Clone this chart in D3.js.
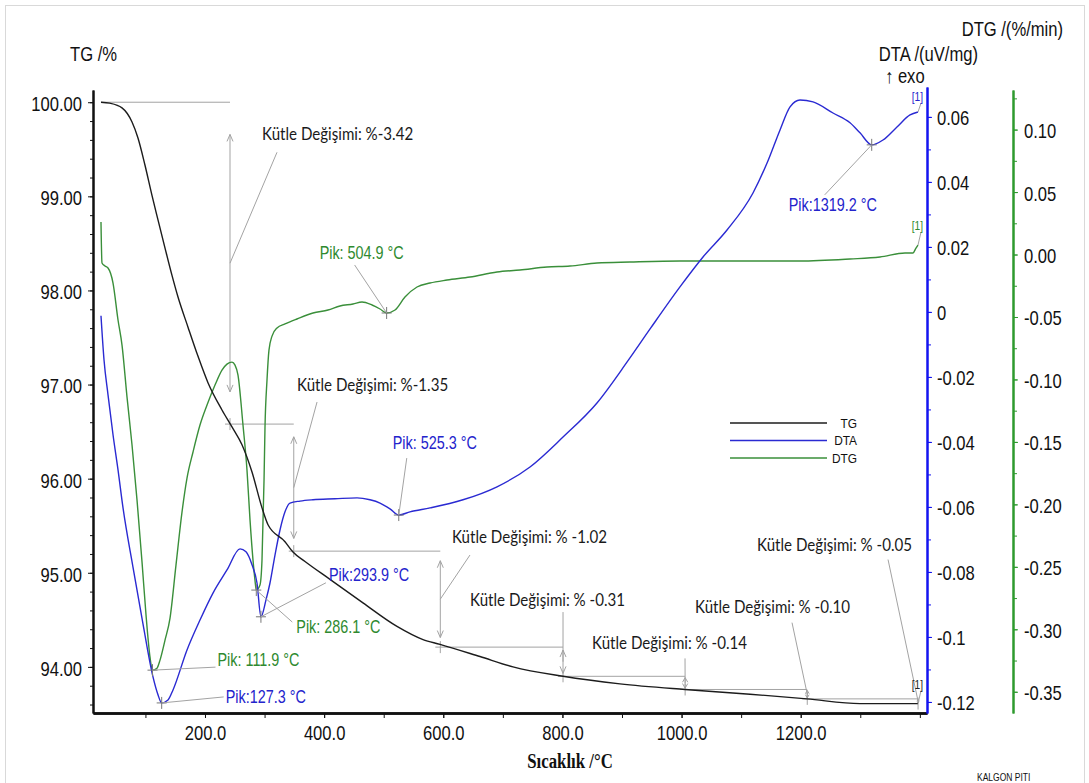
<!DOCTYPE html>
<html><head><meta charset="utf-8">
<script src="https://cdn.jsdelivr.net/npm/d3@7"></script>
<style>
body{margin:0;background:#fff;}
svg{display:block;font-family:"Liberation Sans",Arial,sans-serif;}
</style></head><body>
<svg id="chart" width="1089" height="783"></svg>
<script>
// ---------------- DATA ----------------
const tgTemp=[25.4,40,60.7,77.5,87.5,99.3,111.0,121.1,132.9,144.6,154.7,171.5,188.3,205.0,228.5,245.3,262.1,278.9,295.7,305.8,334.3,347.7,367.9,409.8,465.2,522.3,566.0,594.5,661.6,717.0,801.0,896.6,1005.8,1114.9,1210.6,1299.5,1396.9];
const tgValue=[100.00,99.99,99.94,99.79,99.62,99.33,99.01,98.75,98.45,98.16,97.93,97.61,97.30,97.02,96.73,96.55,96.36,96.07,95.69,95.51,95.33,95.22,95.12,94.93,94.68,94.43,94.29,94.24,94.11,94.00,93.90,93.82,93.76,93.71,93.66,93.61,93.61];

const dtaTemp=[25.4,30.5,37.2,45.6,54.0,62.4,79.1,95.9,112.7,121.1,127.3,137.9,146.3,169.8,191.6,213.4,236.9,258.8,268.8,278.9,287.3,293.9,302.4,309.1,317.5,325.9,334.3,342.7,359.5,381.3,418.2,455.2,477.0,493.8,510.6,525.3,544.1,577.7,633.1,690.2,745.6,801.0,858.0,910.1,948.0,997.3,1036.0,1076.3,1119.9,1143.5,1165.3,1182.1,1198.8,1220.7,1254.2,1282.8,1299.5,1319.2,1338.1,1361.6,1383.5,1396.9];
const dtaValue=[-0.0012,-0.0148,-0.0255,-0.0378,-0.0486,-0.0603,-0.0785,-0.0960,-0.1123,-0.1178,-0.1203,-0.1194,-0.1163,-0.1040,-0.0948,-0.0865,-0.0794,-0.0729,-0.0738,-0.0778,-0.0834,-0.0938,-0.0886,-0.0834,-0.0748,-0.0671,-0.0615,-0.0588,-0.0582,-0.0578,-0.0575,-0.0572,-0.0578,-0.0588,-0.0606,-0.0625,-0.0615,-0.0603,-0.0578,-0.0538,-0.0477,-0.0385,-0.0280,-0.0150,-0.0050,0.0077,0.0169,0.0252,0.0366,0.0458,0.0560,0.0631,0.0652,0.0646,0.0612,0.0582,0.0551,0.0514,0.0529,0.0569,0.0606,0.0615];

const dtgTemp=[25.4,27.1,32.1,37.2,45.6,54.0,60.7,69.1,77.5,85.9,94.3,101.0,107.7,111.9,119.4,124.5,132.9,141.3,151.3,161.4,169.8,179.9,191.6,203.4,216.8,228.5,236.9,245.3,250.4,255.4,263.8,270.5,275.6,280.6,283.9,286.1,292.3,295.7,299.1,300.7,304.1,307.4,312.5,320.9,334.3,354.4,381.3,406.5,426.6,448.5,463.6,480.4,493.8,504.9,519.0,535.7,555.9,577.7,606.3,644.9,690.2,728.8,774.1,812.7,858.0,913.4,997.3,1064.5,1131.7,1198.8,1282.8,1333.1,1375.1,1388.5,1393.5,1396.9];
const dtgValue=[0.0260,-0.0068,-0.0092,-0.0108,-0.0228,-0.0524,-0.0725,-0.1141,-0.1525,-0.1966,-0.2462,-0.2886,-0.3223,-0.3327,-0.3311,-0.3247,-0.3087,-0.2910,-0.2486,-0.2062,-0.1790,-0.1581,-0.1365,-0.1205,-0.1045,-0.0925,-0.0877,-0.0861,-0.0885,-0.0965,-0.1366,-0.1726,-0.2126,-0.2446,-0.2606,-0.2686,-0.2646,-0.2446,-0.1806,-0.1389,-0.1005,-0.0765,-0.0653,-0.0588,-0.0556,-0.0516,-0.0468,-0.0444,-0.0412,-0.0396,-0.0380,-0.0404,-0.0436,-0.0468,-0.0444,-0.0340,-0.0260,-0.0228,-0.0204,-0.0180,-0.0140,-0.0124,-0.0100,-0.0092,-0.0068,-0.0060,-0.0052,-0.0052,-0.0052,-0.0052,-0.0036,-0.0020,0.0012,0.0012,0.0052,0.0076];

const xTickLabels=[200,400,600,800,1000,1200];
const xMinorTicks=[100,200,300,400,500,600,700,800,900,1000,1100,1200,1300,1400];
const tgTickLabels=[94,95,96,97,98,99,100];
const dtaTickLabels=[-0.12,-0.1,-0.08,-0.06,-0.04,-0.02,0,0.02,0.04,0.06];
const dtgTickLabels=[-0.35,-0.30,-0.25,-0.20,-0.15,-0.10,-0.05,0.00,0.05,0.10];

const massLevels=[100.00,96.58,95.23,94.21,93.90,93.76,93.66,93.61];
const massBounds=[25.4,242,349,595,801,1006,1211,1397];
const massChangeText=["Kütle Değişimi: %-3.42","Kütle Değişimi: %-1.35","Kütle Değişimi: % -1.02","Kütle Değişimi: % -0.31","Kütle Değişimi: % -0.14","Kütle Değişimi: % -0.10","Kütle Değişimi: % -0.05"];

const peakSeries=["DTG","DTA","DTG","DTA","DTG","DTA","DTA"];
const peakTemps=[111.9,127.3,286.1,293.9,504.9,525.3,1319.2];
const peakValues=[-0.3327,-0.1203,-0.2686,-0.0938,-0.0468,-0.0625,0.0514];
const peakText=["Pik: 111.9 °C","Pik:127.3 °C","Pik: 286.1 °C","Pik:293.9 °C","Pik: 504.9 °C","Pik: 525.3 °C","Pik:1319.2 °C"];

const legendNames=["TG","DTA","DTG"];

// ---------------- LAYOUT / STYLE ----------------
const COL={tg:"#1c1c1c",dta:"#2a2ad2",dtg:"#3a8f3a",dtaAxis:"#1414f0",dtgAxis:"#2e9a2e",dtaText:"#2424cc",dtgText:"#2f8a2f",ann:"#a3a3a3"};
const SX=0.83;
// annotation label anchors (data space) and leader offsets (px)
const massLabelAt=[[295.7,99.67],[354.5,96.995],[614.6,95.38],[644.9,94.71],[849.7,94.26],[1022.6,94.64],[1126.7,95.30]];
const massLeaderOff=[[15,19],[20,17],[18,18],[93,12],[93,16],[97,16],[131,15]];
const peakLabelOff=[[65,-10],[64,-6],[40,37],[68,-42],[-67,-60],[-6,-72],[-83,60]];
const peakLeaderOff=[[63,-3],[62,-6],[36,32],[65,-34],[-32,-48],[8,-57],[-47,50]];
const endLabelDy=[-15,-11,-15];

const svg=d3.select("#chart");
svg.append("rect").attr("x",5.5).attr("y",5.5).attr("width",1079).attr("height",800)
  .attr("fill","#fff").attr("stroke","#d9d9d9");

const x=d3.scaleLinear().domain([12,1412]).range([93,927]);
const yTG=d3.scaleLinear().domain([93.51,100.13]).range([713,90]);
const yDTA=d3.scaleLinear().domain([-0.1234,0.0692]).range([713,87]);
const yDTG=d3.scaleLinear().domain([-0.367,0.1317]).range([713,90]);

function squeeze(sel,sx){
  sel.each(function(){
    const t=d3.select(this);
    const x0=+t.attr("x")||0, y0=+t.attr("y")||0;
    t.attr("x",null).attr("y",null).attr("transform",`translate(${x0},${y0}) scale(${sx},1)`);
  });
}
function label(g,px,py,str,o){
  o=o||{};
  const t=g.append("text").attr("transform",`translate(${px},${py}) scale(${o.sx||SX},1)`)
    .attr("font-size",o.size||20).attr("fill",o.fill||"#111")
    .attr("text-anchor",o.anchor||"start").text(str);
  if(o.family) t.attr("font-family",o.family);
  if(o.weight) t.attr("font-weight",o.weight);
  if(o.dy) t.attr("dy",o.dy);
  return t;
}

// ---------------- AXES ----------------
const range=(a,b,s)=>d3.range(Math.round(a/s),Math.round(b/s)+1).map(k=>+(k*s).toFixed(4));
// TG left
const gTGm=svg.append("g").attr("transform",`translate(${x.range()[0]},0)`)
  .call(d3.axisLeft(yTG).tickValues(range(93.6,100,0.2)).tickSize(3).tickSizeOuter(0).tickFormat(""));
const gTG=svg.append("g").attr("transform",`translate(${x.range()[0]},0)`)
  .call(d3.axisLeft(yTG).tickValues(tgTickLabels).tickSize(5).tickSizeOuter(0).tickPadding(6).tickFormat(d=>d.toFixed(2)));
[gTGm,gTG].forEach(g=>{g.selectAll(".tick line").attr("stroke","#111");g.select(".domain").attr("stroke","#111").attr("stroke-width",2);});
gTG.selectAll("text").attr("font-size",20).attr("fill","#111").attr("dy","0.42em").attr("font-family","Liberation Sans, Arial, sans-serif");
squeeze(gTG.selectAll("text"),SX);

// X bottom
const gXm=svg.append("g").attr("transform",`translate(0,${yTG.range()[0]})`)
  .call(d3.axisBottom(x).tickValues(xMinorTicks).tickSize(5).tickSizeOuter(0).tickFormat(""));
const gX=svg.append("g").attr("transform",`translate(0,${yTG.range()[0]})`)
  .call(d3.axisBottom(x).tickValues(xTickLabels).tickSize(5).tickSizeOuter(0).tickPadding(8).tickFormat(d=>d.toFixed(1)));
[gXm,gX].forEach(g=>{g.selectAll(".tick line").attr("stroke","#111");g.select(".domain").attr("stroke","#111").attr("stroke-width",2.5);});
gX.selectAll("text").attr("font-size",20).attr("fill","#111").attr("font-family","Liberation Sans, Arial, sans-serif");
squeeze(gX.selectAll("text"),SX);

// DTA right (blue)
const gDm=svg.append("g").attr("transform",`translate(${x.range()[1]},0)`)
  .call(d3.axisRight(yDTA).tickValues(range(-0.12,0.06,0.01)).tickSize(4).tickSizeOuter(0).tickFormat(""));
const gD=svg.append("g").attr("transform",`translate(${x.range()[1]},0)`)
  .call(d3.axisRight(yDTA).tickValues(dtaTickLabels).tickSize(5).tickSizeOuter(0).tickPadding(5).tickFormat(d=>String(+d.toFixed(2))));
[gDm,gD].forEach(g=>{g.selectAll(".tick line").attr("stroke",COL.dtaAxis);g.select(".domain").attr("stroke",COL.dtaAxis).attr("stroke-width",2);});
gD.selectAll("text").attr("font-size",20).attr("fill","#111").attr("dy","0.40em").attr("font-family","Liberation Sans, Arial, sans-serif");
squeeze(gD.selectAll("text"),SX);

// DTG right (green)
const xDTGaxis=1013;
const gGm=svg.append("g").attr("transform",`translate(${xDTGaxis},0)`)
  .call(d3.axisRight(yDTG).tickValues(range(-0.35,0.125,0.025)).tickSize(4).tickSizeOuter(0).tickFormat(""));
const gG=svg.append("g").attr("transform",`translate(${xDTGaxis},0)`)
  .call(d3.axisRight(yDTG).tickValues(dtgTickLabels).tickSize(5).tickSizeOuter(0).tickPadding(6).tickFormat(d=>d.toFixed(2)));
[gGm,gG].forEach(g=>{g.selectAll(".tick line").attr("stroke",COL.dtgAxis);g.select(".domain").attr("stroke",COL.dtgAxis).attr("stroke-width",2);});
gG.selectAll("text").attr("font-size",20).attr("fill","#111").attr("dy","0.40em").attr("font-family","Liberation Sans, Arial, sans-serif");
squeeze(gG.selectAll("text"),SX);

// ---------------- TITLES ----------------
const gt=svg.append("g");
label(gt,70,61,"TG /%");
label(gt,1063,36,"DTG /(%/min)",{anchor:"end"});
label(gt,978,61,"DTA /(uV/mg)",{anchor:"end"});
label(gt,885,83,"↑ exo");
label(gt,570,768,"Sıcaklık /°C",{anchor:"middle",family:"Liberation Serif, Times New Roman, serif",weight:"bold",sx:0.84});
label(gt,977,781,"KALGON PITI",{size:10,sx:0.85});

// ---------------- MASS-CHANGE ANNOTATIONS ----------------
const ga=svg.append("g").attr("stroke",COL.ann).attr("fill","none").attr("stroke-width",1);
massLevels.forEach((lv,i)=>{
  if(i<massLevels.length-1){
    const x0=x(massBounds[i])-(i>0?5:0), x1=x(massBounds[i+1]);
    ga.append("line").attr("x1",x0).attr("x2",x1).attr("y1",yTG(lv)).attr("y2",yTG(lv));
  }
  if(i>0){
    const xb=x(massBounds[i]);
    ga.append("line").attr("x1",xb).attr("x2",xb).attr("y1",yTG(lv)-6).attr("y2",yTG(lv)+6);
  }
});
massChangeText.forEach((s,i)=>{
  const xb=x(massBounds[i+1]);
  const ya=yTG(massLevels[i]), yb=yTG(massLevels[i+1]);
  const span=yb-ya, inset=span*0.1;
  const a=ya+inset, b=yb-inset, h=Math.min(7,span*0.35), w=Math.min(3,span*0.2);
  ga.append("line").attr("x1",xb).attr("x2",xb).attr("y1",a).attr("y2",b);
  ga.append("path").attr("d",`M${xb-w},${a+h}L${xb},${a}L${xb+w},${a+h}`);
  ga.append("path").attr("d",`M${xb-w},${b-h}L${xb},${b}L${xb+w},${b-h}`);
  const lx=x(massLabelAt[i][0]), ly=yTG(massLabelAt[i][1]);
  ga.append("line").attr("x1",xb).attr("y1",(ya+yb)/2)
    .attr("x2",lx+massLeaderOff[i][0]).attr("y2",ly+massLeaderOff[i][1]);
  label(svg,lx,ly,s,{size:18,family:"Lato, 'Open Sans', sans-serif",fill:"#1a1a1a",dy:"0.35em",sx:0.84});
});

// ---------------- CURVES ----------------
const mk=(ts,vs)=>ts.map((t,i)=>[t,vs[i]]);
const lineTG=d3.line().x(d=>x(d[0])).y(d=>yTG(d[1])).curve(d3.curveMonotoneX);
const lineDTA=d3.line().x(d=>x(d[0])).y(d=>yDTA(d[1])).curve(d3.curveMonotoneX);
const lineDTG=d3.line().x(d=>x(d[0])).y(d=>yDTG(d[1])).curve(d3.curveMonotoneX);
svg.append("path").attr("d",lineDTG(mk(dtgTemp,dtgValue))).attr("fill","none").attr("stroke",COL.dtg).attr("stroke-width",1.4);
svg.append("path").attr("d",lineDTA(mk(dtaTemp,dtaValue))).attr("fill","none").attr("stroke",COL.dta).attr("stroke-width",1.4);
svg.append("path").attr("d",lineTG(mk(tgTemp,tgValue))).attr("fill","none").attr("stroke",COL.tg).attr("stroke-width",1.4);

// ---------------- PEAKS ----------------
const gp=svg.append("g");
peakTemps.forEach((t,i)=>{
  const ys=peakSeries[i]==="DTA"?yDTA:yDTG;
  const px=x(t), py=ys(peakValues[i]);
  const col=peakSeries[i]==="DTA"?COL.dtaText:COL.dtgText;
  gp.append("path").attr("d",`M${px-5},${py}H${px+5}M${px},${py-6}V${py+6}`).attr("stroke","#777").attr("stroke-width",1);
  gp.append("line").attr("x1",px).attr("y1",py).attr("x2",px+peakLeaderOff[i][0]).attr("y2",py+peakLeaderOff[i][1])
    .attr("stroke",COL.ann).attr("stroke-width",1);
  label(gp,px+peakLabelOff[i][0],py+peakLabelOff[i][1],peakText[i],{size:18,fill:col,dy:"0.35em",sx:0.8});
});

// [1] end markers
const ends=[[tgTemp,tgValue,yTG,"#222"],[dtaTemp,dtaValue,yDTA,COL.dtaText],[dtgTemp,dtgValue,yDTG,COL.dtgText]];
ends.forEach(([ts,vs,ys,c],k)=>{
  const ex=x(ts[ts.length-1]), ey=ys(vs[vs.length-1]);
  svg.append("line").attr("x1",ex+3).attr("y1",ey+endLabelDy[k]+2).attr("x2",ex).attr("y2",ey).attr("stroke",COL.ann);
  label(svg,ex+5,ey+endLabelDy[k],"[1]",{size:12,fill:c,anchor:"end",sx:0.85});
});

// ---------------- LEGEND ----------------
const legCol=[COL.tg,COL.dta,COL.dtg];
const gl=svg.append("g");
legendNames.forEach((n,i)=>{
  const yy=423+i*17.5;
  gl.append("line").attr("x1",730).attr("x2",827).attr("y1",yy).attr("y2",yy).attr("stroke",legCol[i]).attr("stroke-width",1.3);
  label(gl,857,yy,n,{size:13.5,anchor:"end",dy:"0.36em",sx:0.88});
});
</script>
</body></html>
